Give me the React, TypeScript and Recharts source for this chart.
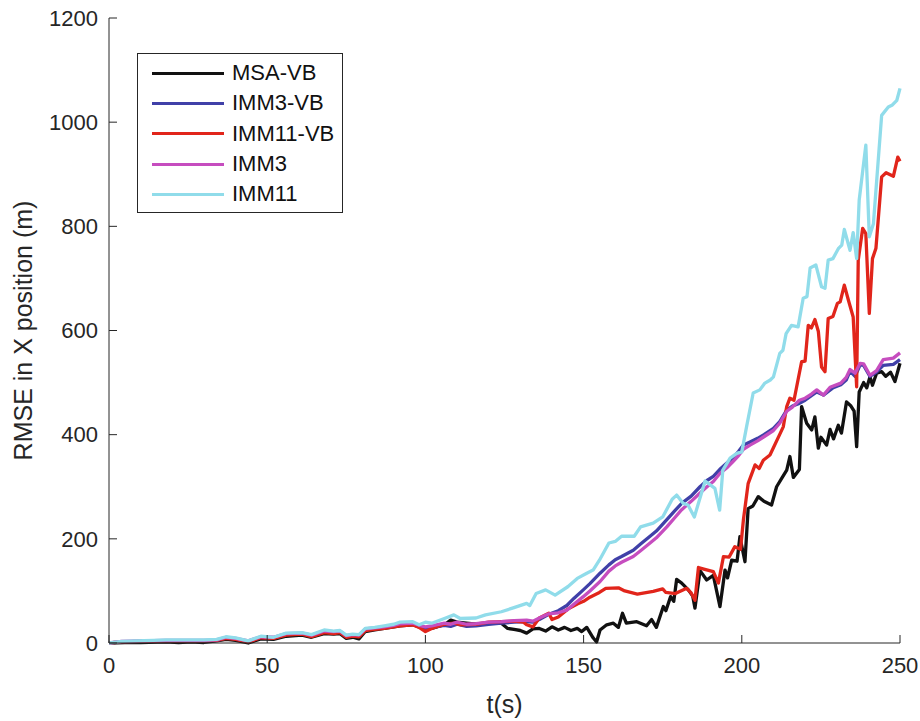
import React from 'react';
import { LineChart, Line, XAxis, YAxis, Legend } from 'recharts';

// time (s) and RMSE (m), one pair of arrays per filter
const msaT = [0, 5, 10, 18, 22, 26, 30, 34, 37, 40, 44, 48, 52, 56, 61, 64, 68, 71, 73, 75, 77, 79, 81, 84, 87, 90, 92, 96, 98, 100, 102, 106, 108, 110, 113, 116, 120, 124, 126, 128, 130, 132, 134, 136, 138, 140, 142, 144, 146, 148, 149.4, 151, 153, 154.1, 155.2, 157.3, 159.4, 161, 162.3, 163.5, 166.8, 169.9, 171.5, 173, 175.2, 176, 177.5, 178.5, 179.4, 181, 183.1, 184.5, 185.2, 186.8, 188.9, 191, 193.1, 194.7, 195.5, 196.8, 198.5, 199.4, 201, 202, 203.5, 205.2, 207, 209.4, 211, 212.6, 214.2, 215.2, 216.3, 218.2, 218.9, 220.5, 222.1, 223.1, 224.2, 225, 226.8, 227.9, 229, 230.5, 231.5, 233.1, 234.5, 235.5, 236.3, 237.1, 238.5, 239.5, 240.5, 241.3, 242.6, 244.2, 245.5, 247, 248.4, 250];
const msaV = [0, 1, 1, 2, 1, 2, 1, 4, 7, 5, 0, 8, 7, 13, 15, 11, 18, 17, 18, 9, 11, 8, 22, 25, 28, 31, 33, 35, 31, 28, 28, 35, 44, 40, 38, 36, 38, 38, 28, 26, 24, 19, 27, 28, 23, 31, 25, 30, 24, 28, 22, 30, 10, 2, 25, 35, 38, 30, 57, 38, 41, 33, 45, 30, 70, 62, 89, 80, 122, 115, 102, 90, 67, 139, 121, 130, 70, 140, 125, 159, 157, 204, 156, 258, 263, 281, 272, 265, 300, 316, 332, 358, 318, 333, 454, 422, 409, 434, 374, 395, 380, 410, 392, 418, 403, 463, 455, 445, 377, 482, 500, 490, 511, 495, 518, 521, 512, 520, 502, 537];

const imm3vbT = [0, 4, 10, 18, 24, 30, 34, 37, 40, 44, 48, 52, 56, 61, 64, 68, 71, 73, 75, 77, 79, 81, 84, 87, 90, 92, 96, 98, 100, 102, 106, 108, 110, 113, 116, 120, 124, 128, 132, 134, 136, 139, 142, 144.7, 147, 149.9, 152, 155.2, 158, 160, 162, 165.7, 168, 171, 173, 176.3, 179, 181, 184, 186.8, 189, 191, 193, 195.2, 197, 199, 200.5, 202.6, 205, 207, 210, 212, 214.2, 216, 218.2, 220, 222, 223.7, 225.8, 228.9, 231.3, 233, 234.2, 235.8, 237.4, 238.5, 240.5, 242.6, 244.7, 247.9, 250];
const imm3vbV = [0, 2, 3, 4, 4, 4, 5, 10, 8, 3, 11, 10, 17, 18, 14, 22, 21, 22, 13, 15, 14, 25, 28, 30, 33, 36, 37, 33, 27, 30, 34, 32, 36, 32, 33, 36, 38, 40, 41, 40, 45, 55, 62, 72, 86, 102, 114, 134, 150, 160, 166, 178, 190, 205, 215, 237, 255, 268, 282, 300, 312, 320, 333, 345, 355, 368, 380, 386, 393, 400, 412, 425, 447, 455, 460, 466, 475, 482, 476, 490, 496, 505, 522, 512, 534, 533, 512, 520, 533, 535, 544];

const imm11vbT = [0, 4, 10, 18, 24, 30, 34, 37, 40, 44, 48, 52, 56, 61, 64, 68, 71, 73, 75, 77, 79, 81, 84, 87, 90, 92, 96, 98, 100, 102, 106, 109, 111, 116, 120, 124, 128, 131, 132, 134, 136, 139, 140, 142, 145, 148, 150, 152, 155, 157, 161, 163, 167, 172, 175, 176, 179, 182.6, 184, 185.2, 186.3, 188, 191, 192.6, 194.2, 196, 197.8, 199.6, 200.5, 202, 204.2, 205.5, 206.8, 208.9, 212.1, 213.1, 214.2, 215.2, 216.5, 218.9, 220, 221, 222, 223.1, 224.2, 225.2, 226.3, 227.3, 228.8, 230.2, 231.1, 232.4, 233.7, 235.2, 236.3, 236.8, 238.2, 239.2, 240.3, 241.3, 242.4, 244.2, 245.6, 247.9, 249.3, 250];
const imm11vbV = [0, 2, 3, 4, 4, 4, 5, 9, 7, 2, 10, 9, 15, 17, 12, 20, 18, 20, 11, 13, 12, 24, 26, 28, 31, 33, 35, 30, 22, 28, 36, 38, 35, 36, 40, 41, 42, 40, 35, 31, 48, 57, 45, 50, 65, 75, 80, 88, 97, 105, 106, 100, 94, 99, 104, 97, 95, 105, 96, 82, 145, 142, 137, 115, 166, 165, 185, 180, 236, 306, 342, 335, 351, 361, 402, 415, 454, 470, 466, 540, 541, 610, 605, 621, 598, 530, 521, 623, 627, 652, 655, 687, 658, 626, 492, 735, 796, 786, 633, 738, 758, 895, 903, 896, 933, 925];

const imm3T = [0, 4, 10, 18, 24, 30, 34, 37, 40, 44, 48, 52, 56, 61, 64, 68, 71, 73, 75, 77, 79, 81, 84, 87, 90, 92, 96, 98, 100, 102, 106, 108, 110, 113, 116, 120, 124, 128, 132, 134, 136, 139, 142, 144.7, 147, 149.9, 152, 155.2, 158, 160, 162, 165.7, 168, 171, 173, 176.3, 179, 181, 184, 186.8, 189, 191, 193, 195.2, 197, 199, 200.5, 202.6, 205, 207, 210, 212, 214.2, 216, 218.2, 220, 222, 223.7, 225.8, 227.9, 231.3, 233, 234.2, 235.8, 237.4, 238.5, 240.5, 242.6, 244.7, 247.9, 250];
const imm3V = [0, 3, 4, 5, 5, 5, 6, 11, 9, 4, 12, 11, 18, 19, 15, 23, 22, 23, 14, 16, 15, 27, 29, 31, 34, 37, 38, 34, 31, 33, 38, 36, 40, 36, 37, 40, 41, 43, 44, 42, 48, 56, 58, 63, 75, 89, 100, 118, 138, 148, 155, 166, 177, 192, 202, 223, 242, 256, 272, 288, 300, 310, 325, 336, 347, 360, 372, 380, 388, 396, 408, 422, 445, 453, 466, 470, 478, 486, 476, 491, 499, 510, 525, 518, 537, 536, 514, 523, 544, 547, 557];

const imm11T = [0, 4, 8, 14, 18, 24, 30, 34, 37, 40, 44, 48, 52, 56, 61, 64, 68, 71, 73, 75, 77, 79, 81, 84, 87, 90, 92, 96, 98, 100, 102, 106, 109, 111, 116, 119, 124, 128, 132, 133, 135, 138, 141, 145, 148, 151, 153, 155, 158, 160, 162, 166, 168, 172, 175, 178, 179.4, 181.5, 183, 185, 188.4, 191.5, 193, 194, 196.3, 198.4, 200, 201.5, 203.6, 205.7, 207.3, 209, 210, 212, 213, 214, 215.7, 217.8, 219.4, 220.6, 221.6, 223.4, 225.2, 226.3, 227.3, 228.8, 230.5, 231.6, 232.4, 234.2, 235.2, 236.3, 237.1, 239.2, 240.3, 241.6, 244.2, 246.3, 247.6, 249, 250];
const imm11V = [0, 3, 4, 5, 6, 6, 6, 7, 12, 10, 4, 13, 11, 19, 20, 16, 25, 23, 24, 15, 17, 16, 28, 30, 33, 36, 40, 41, 35, 40, 38, 47, 54, 47, 48, 54, 60, 68, 76, 72, 95, 102, 92, 108, 124, 134, 140, 159, 192, 195, 205, 205, 223, 230, 242, 276, 284, 268, 265, 242, 311, 297, 255, 332, 355, 364, 367, 415, 480, 486, 499, 505, 511, 556, 562, 594, 610, 607, 662, 665, 720, 726, 684, 681, 735, 738, 757, 764, 794, 754, 788, 738, 850, 956, 780, 805, 1013, 1029, 1033, 1042, 1065];

const xTicks = [0, 50, 100, 150, 200, 250];
const yTicks = [0, 200, 400, 600, 800, 1000, 1200];

const toPoints = (ts: number[], vs: number[]) => ts.map((t, i) => ({ t, v: vs[i] }));

const SERIES = [
  { name: 'MSA-VB', color: '#111111', data: toPoints(msaT, msaV) },
  { name: 'IMM3-VB', color: '#4040a8', data: toPoints(imm3vbT, imm3vbV) },
  { name: 'IMM11-VB', color: '#e1251b', data: toPoints(imm11vbT, imm11vbV) },
  { name: 'IMM3', color: '#c64dbf', data: toPoints(imm3T, imm3V) },
  { name: 'IMM11', color: '#90dcea', data: toPoints(imm11T, imm11V) },
];

const AXIS = '#262626';
const FONT = '"Liberation Sans", Arial, Helvetica, sans-serif';

const renderLegend = () => (
  <div
    style={{
      border: `1px solid ${AXIS}`,
      background: '#fff',
      width: 206,
      height: 160,
      boxSizing: 'border-box',
      padding: '4px 0 0 14px',
    }}
  >
    {SERIES.map((s) => (
      <div key={s.name} style={{ display: 'flex', alignItems: 'center', height: 30.3 }}>
        <span style={{ display: 'inline-block', width: 72, height: 3, background: s.color, marginRight: 8 }} />
        <span style={{ fontSize: 22, color: '#111' }}>{s.name}</span>
      </div>
    ))}
  </div>
);

export default function App() {
  return (
    <div style={{ position: 'absolute', left: 0, top: 0, fontFamily: FONT, background: '#fff' }}>
      <LineChart width={920} height={721} margin={{ top: 18, right: 20, bottom: 0, left: 0 }}>
        <XAxis
          xAxisId="b"
          dataKey="t"
          type="number"
          domain={[0, 250]}
          ticks={xTicks}
          height={78}
          stroke={AXIS}
          tickSize={-8}
          tickMargin={22}
          tick={{ fill: AXIS, fontSize: 22 }}
          label={{ value: 't(s)', position: 'insideBottom', offset: 8, fill: AXIS, fontSize: 25 }}
        />
        <XAxis
          xAxisId="top"
          orientation="top"
          dataKey="t"
          type="number"
          domain={[0, 250]}
          ticks={xTicks}
          height={0}
          stroke={AXIS}
          tickSize={-8}
          tick={false}
        />
        <YAxis
          yAxisId="l"
          type="number"
          domain={[0, 1200]}
          ticks={yTicks}
          width={109}
          stroke={AXIS}
          tickSize={-8}
          tickMargin={19}
          tick={{ fill: AXIS, fontSize: 22 }}
          label={{
            value: 'RMSE in X position (m)',
            angle: -90,
            position: 'insideLeft',
            offset: 23,
            fill: AXIS,
            fontSize: 25,
            style: { textAnchor: 'middle' },
          }}
        />
        <YAxis
          yAxisId="r"
          orientation="right"
          type="number"
          domain={[0, 1200]}
          ticks={yTicks}
          width={0}
          stroke={AXIS}
          tickSize={-8}
          tick={false}
        />
        <Legend
          layout="vertical"
          align="center"
          verticalAlign="middle"
          content={renderLegend}
          wrapperStyle={{ left: 137, top: 53, width: 206 }}
        />
        {SERIES.map((s) => (
          <Line
            key={s.name}
            xAxisId="b"
            yAxisId="l"
            data={s.data}
            dataKey="v"
            name={s.name}
            type="linear"
            stroke={s.color}
            strokeWidth={3.3}
            strokeLinejoin="round"
            dot={false}
            isAnimationActive={false}
          />
        ))}
      </LineChart>
    </div>
  );
}
